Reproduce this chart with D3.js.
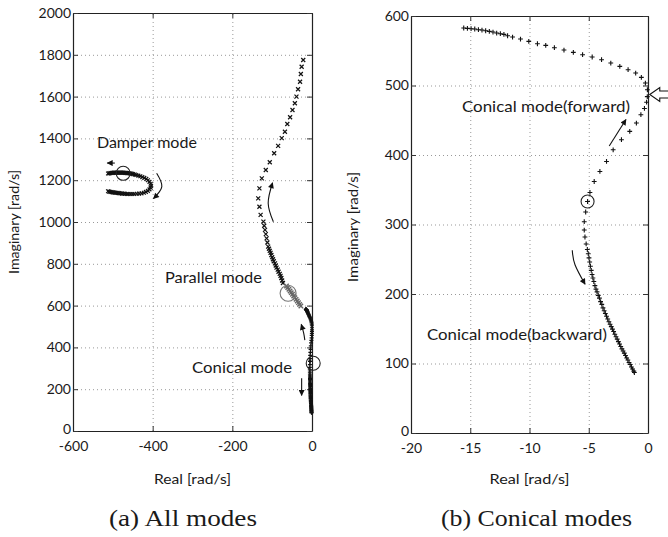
<!DOCTYPE html>
<html>
<head>
<meta charset="utf-8">
<script src="https://cdn.jsdelivr.net/npm/d3@7"></script>
<style>
  body { margin: 0; background: #fff; }
  svg text { font-family: Lato, "Noto Sans", sans-serif; fill: #1a1a1a; }
  svg text.caption { font-family: "Liberation Serif", "Times New Roman", serif; }
  .grid line { stroke: #999; stroke-dasharray: 1,3; }
  .grid path { display: none; }
</style>
</head>
<body>
<svg id="chart" width="668" height="537"></svg>
<script>

// ---- (a) all modes : [real, imag] in rad/s ----
var damperMode = [
  [-512,1232],[-509,1233],[-506,1234],[-503,1235],[-500,1235],[-497,1236],[-494,1236],[-491,1236],
  [-488,1236],[-485,1236],[-482,1236],[-479,1236],[-476,1236],[-473,1236],[-470,1235],[-467,1235],
  [-464,1234],[-461,1234],[-458,1233],[-455,1232],[-452,1231],[-449,1229],[-445,1227],[-441,1225],
  [-436,1222],[-431,1219],[-426,1215],[-421,1211],[-416,1206],[-412,1200],[-408,1192],[-405,1183],
  [-404,1173],[-405,1164],[-408,1156],[-412,1149],[-417,1144],[-422,1140],[-428,1137],[-434,1136],
  [-440,1135],[-446,1134],[-451,1134],[-456,1134],[-461,1134],[-465,1134],[-469,1135],[-473,1136],
  [-477,1136],[-481,1137],[-485,1138],[-488,1139],[-491,1140],[-494,1140],[-497,1141],[-500,1142],
  [-503,1143],[-506,1144],[-509,1145],[-512,1147]
];
var parallelMode = [
  [-22,1775],[-26,1743],[-28,1708],[-30,1671],[-35,1635],[-39,1600],[-43,1568],[-49,1536],
  [-55,1501],[-62,1469],[-68,1432],[-76,1401],[-85,1364],[-95,1329],[-106,1286],[-116,1249],
  [-126,1209],[-132,1161],[-135,1113],[-132,1073],[-129,1034],[-122,1002],[-120,982],[-118,962],
  [-116,942],[-114,922],[-112,902],[-110,882],[-108,872],[-106,862],[-104,852],[-102,842],
  [-100,832],[-98,822],[-96,812],[-93,802],[-91,792],[-89,782],[-86,772],[-84,762],
  [-81,752],[-79,742],[-77,732],[-75,720],[-73,708]
];
var parallelTail = [
  [-64,694],[-61,686],[-58,678],[-55,670],[-52,662],[-49,654],[-46,646],[-43,638],
  [-40,630],[-37,622],[-34,614],[-31,606],[-28,598]
];

// ---- (b) conical modes ----
var conicalForward = [
  [-15.55,582.7],[-15.24,582.2],[-14.93,581.7],[-14.62,581.3],[-14.31,580.3],[-14.01,579.8],
  [-13.70,578.8],[-13.39,577.9],[-13.08,576.9],[-12.77,575.5],[-12.46,574.5],[-12.16,573.5],
  [-11.85,571.6],[-11.43,569.7],[-10.76,566.8],[-10.06,563.5],[-9.33,560.1],[-8.63,557.7],
  [-7.90,554.4],[-7.09,551.0],[-6.30,547.7],[-5.52,544.3],[-4.71,541.0],[-3.92,537.1],
  [-3.14,532.3],[-2.38,527.5],[-1.68,522.7],[-1.04,517.9],[-0.56,511.7],[-0.22,503.5],
  [-0.05,493.9],[-0.06,484],[-0.12,476],[-0.3,467],[-0.6,458],[-0.98,446],[-1.54,434],
  [-2.24,422],[-2.94,407.5],[-3.5,390.7],[-4.06,376.3],[-4.54,361.9],[-4.9,346.1],[-5.1,333]
];
var conicalBackward = [
  [-5.1,333],[-5.26,318],[-5.38,304],[-5.38,292],[-5.32,282],[-5.22,272],[-5.12,264],[-5.04,258],
  [-4.98,252],[-4.92,246],[-4.86,240],[-4.79,234],[-4.72,228],[-4.65,223],[-4.57,218],[-4.48,212],
  [-4.39,207],[-4.3,203],[-4.2,198],[-4.1,194],[-4.0,189],[-3.9,185],[-3.8,180],[-3.7,176],
  [-3.6,172],[-3.5,168],[-3.4,164],[-3.3,160],[-3.2,156.5],[-3.1,153],[-3.0,149.5],[-2.9,146],
  [-2.8,142],[-2.7,138.5],[-2.6,135],[-2.5,131.5],[-2.4,128],[-2.3,124.5],[-2.2,121],[-2.1,118],
  [-2.0,115],[-1.9,111.5],[-1.8,108],[-1.7,105],[-1.6,101.5],[-1.5,98.5],[-1.4,95],[-1.3,92],
  [-1.2,89],[-1.15,87]
];

var allXTicks = [-600, -400, -200, 0];
var allYTicks = [0, 200, 400, 600, 800, 1000, 1200, 1400, 1600, 1800, 2000];
var conXTicks = [-20, -15, -10, -5, 0];
var conYTicks = [0, 100, 200, 300, 400, 500, 600];

var svg = d3.select("#chart");

var defs = svg.append("defs");
defs.append("marker")
    .attr("id", "head")
    .attr("viewBox", "0 0 10 10")
    .attr("refX", 9).attr("refY", 5)
    .attr("markerWidth", 7).attr("markerHeight", 6)
    .attr("markerUnits", "userSpaceOnUse")
    .attr("orient", "auto")
  .append("path")
    .attr("d", "M0,0L10,5L0,10z")
    .attr("fill", "#111");

function fmt(d) { return String(d); }

function panel(o) {
    var x = d3.scaleLinear().domain(o.xDomain).range(o.xRange),
        y = d3.scaleLinear().domain(o.yDomain).range(o.yRange);
    var left = o.xRange[0], right = o.xRange[1], top = o.yRange[1], bottom = o.yRange[0];
    var g = svg.append("g");

    // dotted grid
    g.append("g").attr("class", "grid")
        .attr("transform", "translate(0," + bottom + ")")
        .call(d3.axisBottom(x).tickValues(o.xTicks.slice(1, -1)).tickSize(-(bottom - top)).tickFormat(""));
    g.append("g").attr("class", "grid")
        .attr("transform", "translate(" + left + ",0)")
        .call(d3.axisLeft(y).tickValues(o.yTicks.slice(1, -1)).tickSize(-(right - left)).tickFormat(""));

    // box with inward ticks
    var ax = [
        g.append("g").attr("transform", "translate(0," + bottom + ")")
            .call(d3.axisBottom(x).tickValues(o.xTicks).tickSize(-5).tickSizeOuter(0).tickPadding(10).tickFormat(fmt)),
        g.append("g").attr("transform", "translate(0," + top + ")")
            .call(d3.axisTop(x).tickValues(o.xTicks).tickSize(-5).tickSizeOuter(0).tickFormat("")),
        g.append("g").attr("class", "yleft").attr("transform", "translate(" + left + ",0)")
            .call(d3.axisLeft(y).tickValues(o.yTicks).tickSize(-5).tickSizeOuter(0).tickPadding(2).tickFormat(fmt)),
        g.append("g").attr("transform", "translate(" + right + ",0)")
            .call(d3.axisRight(y).tickValues(o.yTicks).tickSize(-5).tickSizeOuter(0).tickFormat(""))
    ];
    ax.forEach(function(a) {
        a.select(".domain").attr("stroke", "#222").attr("stroke-width", 1.2);
        a.selectAll(".tick line").attr("stroke", "#333");
        a.selectAll("text").attr("font-size", 14).attr("font-family", null);
    });
    // lift the zero label a little off the x tick labels
    g.select(".yleft").selectAll("text").filter(function(d) { return d === 0; }).attr("dy", "0.15em");

    // axis titles
    g.append("text")
        .attr("x", (left + right) / 2).attr("y", 484)
        .attr("text-anchor", "middle").attr("font-size", 13.5)
        .attr("textLength", o.xTitleW).attr("lengthAdjust", "spacingAndGlyphs")
        .text("Real [rad/s]");
    g.append("text")
        .attr("transform", "translate(" + o.yTitleX + "," + o.yTitleY + ") rotate(-90)")
        .attr("text-anchor", "middle").attr("font-size", 13.5)
        .attr("textLength", o.yTitleW).attr("lengthAdjust", "spacingAndGlyphs")
        .text("Imaginary [rad/s]");

    g.append("text").attr("class", "caption")
        .attr("x", o.capX).attr("y", 526)
        .attr("font-size", 24)
        .attr("textLength", o.capW).attr("lengthAdjust", "spacingAndGlyphs")
        .text(o.caption);

    return { x: x, y: y, g: g };
}

function marks(p, data, shape, r, color, sw) {
    var d = shape === "x"
        ? "M" + -r + "," + -r + "L" + r + "," + r + "M" + -r + "," + r + "L" + r + "," + -r
        : "M" + -r + ",0L" + r + ",0M0," + -r + "L0," + r;
    p.g.append("g").selectAll("path")
        .data(data)
        .enter().append("path")
        .attr("transform", function(v) { return "translate(" + p.x(v[0]) + "," + p.y(v[1]) + ")"; })
        .attr("d", d)
        .attr("fill", "none")
        .attr("stroke", color)
        .attr("stroke-width", sw);
}

function label(p, t, x, y, w, size) {
    p.g.append("text")
        .attr("x", p.x(x)).attr("y", p.y(y))
        .attr("font-size", size)
        .attr("textLength", w).attr("lengthAdjust", "spacingAndGlyphs")
        .text(t);
}

function ring(p, x, y, r, color) {
    p.g.append("circle")
        .attr("cx", p.x(x)).attr("cy", p.y(y)).attr("r", r)
        .attr("fill", "none").attr("stroke", color).attr("stroke-width", 1.1);
}

function arrow(p, pts) {
    var line = d3.line()
        .x(function(v) { return p.x(v[0]); })
        .y(function(v) { return p.y(v[1]); })
        .curve(d3.curveNatural);
    p.g.append("path")
        .attr("d", line(pts))
        .attr("fill", "none")
        .attr("stroke", "#111")
        .attr("stroke-width", 1.1)
        .attr("marker-end", "url(#head)");
}

// ---- panel (a) ----
var pa = panel({
    xDomain: [-600, 0], xRange: [73, 312],
    yDomain: [0, 2000], yRange: [431, 13],
    xTicks: allXTicks, yTicks: allYTicks,
    xTitleW: 77, yTitleX: 19, yTitleY: 222, yTitleW: 104,
    caption: "(a) All modes", capX: 109, capW: 148
});

marks(pa, damperMode, "x", 1.9, "#111", 1.2);
marks(pa, parallelMode, "x", 2, "#111", 1.2);
marks(pa, parallelTail, "x", 2.2, "#666", 1.4);
marks(pa, conicalForward, "+", 2, "#111", 1.2);
marks(pa, conicalBackward, "+", 2, "#111", 1.2);

ring(pa, -474, 1233, 7, "#222");
ring(pa, -60, 659, 8, "#777");
ring(pa, 3, 324, 7, "#222");

label(pa, "Damper mode", -540, 1354, 100, 16);
label(pa, "Parallel mode", -369, 708, 97, 16);
label(pa, "Conical mode", -301, 278, 100, 16);

arrow(pa, [[-495, 1282], [-514, 1282]]);
arrow(pa, [[-390, 1233], [-377, 1169], [-398, 1112]]);
arrow(pa, [[-97, 1001], [-110, 1090], [-99, 1188]]);
arrow(pa, [[-18, 435], [-21, 470], [-27, 510]]);
arrow(pa, [[-26, 252], [-26, 170]]);

// ---- panel (b) ----
var pb = panel({
    xDomain: [-20, 0], xRange: [411, 648],
    yDomain: [0, 600], yRange: [433, 16],
    xTicks: conXTicks, yTicks: conYTicks,
    xTitleW: 80, yTitleX: 358, yTitleY: 227, yTitleW: 110,
    caption: "(b) Conical modes", capX: 441, capW: 191
});

marks(pb, conicalForward, "+", 2.4, "#111", 1.1);
marks(pb, conicalBackward, "+", 2.4, "#111", 1.1);

ring(pb, -5.1, 333, 6.5, "#222");

label(pb, "Conical mode(forward)", -15.7, 462, 168, 16);
label(pb, "Conical mode(backward)", -18.65, 134, 180, 16);

arrow(pb, [[-3.27, 413], [-1.86, 451]]);
arrow(pb, [[-6.39, 263], [-6.16, 242], [-5.31, 214]]);

// hollow pointer at the right edge
var tipX = pb.x(0.15), tipY = pb.y(487);
pb.g.append("path")
    .attr("d", "M" + tipX + "," + tipY + "l10,-7l0,3.5l12,0l0,7l-12,0l0,3.5z")
    .attr("fill", "#fff")
    .attr("stroke", "#111")
    .attr("stroke-width", 1.1);

</script>
</body>
</html>
